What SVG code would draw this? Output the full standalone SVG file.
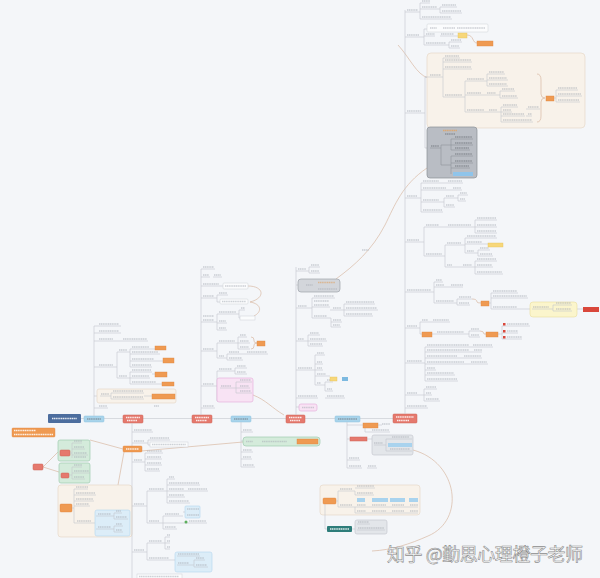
<svg xmlns="http://www.w3.org/2000/svg" width="600" height="578" viewBox="0 0 600 578">
<style>
.ln{fill:none;stroke:#c3c7cd;stroke-width:.6}
.tx{fill:none;stroke:#aeb3ba;stroke-width:1.4;stroke-dasharray:1.3 .5;opacity:.6}
.txw{fill:none;stroke:#fff;stroke-width:1.4;stroke-dasharray:1.3 .5;opacity:.85}
.txd{fill:none;stroke:#6f747c;stroke-width:1.4;stroke-dasharray:1.3 .5;opacity:.6}
.rel{fill:none;stroke:#d9b9a3;stroke-width:.7}
.red{fill:#e5796e;stroke:#cf6357;stroke-width:.5}
.blu{fill:#a8d4eb;stroke:#8cc0dd;stroke-width:.5}
.org{fill:#ef9a52;stroke:#dd8540;stroke-width:.4}
.yel{fill:#f7d77a;stroke:#e5c25a;stroke-width:.4}
.beige{fill:#f8f2ea;stroke:#e6d9c8;stroke-width:.7}
.green{fill:#d4ebdb;stroke:#9fcbb0;stroke-width:.7}
.lblue{fill:#dcedf8;stroke:#b4d7ee;stroke-width:.6}
.pink{fill:#f8e3f4;stroke:#e3aad8;stroke-width:.6}
.gbox{fill:#e3e6ea;stroke:#bfc3c9;stroke-width:.6}
.wbox{fill:#fbfcfd;stroke:#ccd0d5;stroke-width:.5}
</style>
<rect width="600" height="578" fill="#f4f6f9"/>

<g id="connectors">
<path class="ln" stroke="#cbc6c3" d="M81,418.5H84 M104,418.5H123 M143,418.5H192 M212,418.5H231 M251,418.5H286 M305,418.5H335 M360,418.5H393"/>
<path class="rel" d="M336,279 C355,265 372,250 385,225 C395,205 402,185 427,168"/>
<path class="rel" d="M398,45 C410,58 416,74 428,78"/>
<path class="rel" d="M413,450 C458,462 466,520 428,536 C410,544 392,550 372,551"/>
<path class="rel" d="M243,442 L141,451"/>
<path class="rel" d="M123,449 L90,440 M124,452 L118,485"/>
<path class="rel" stroke="#e8a59c" d="M43,467 L58,452 M43,467 L59,472"/>
<path class="rel" d="M253,395 C266,400 272,408 284,415"/>
<path class="rel" d="M248,286 C264,286 266,298 250,302 M250,302 C262,304 262,312 254,316"/>
<path class="rel" d="M467,35 C474,35 472,43 477,43"/>
<path class="tx" d="M362,250h7"/>
</g>

<g id="root">
<rect x="48" y="414" width="33" height="9" rx="1" fill="#4c6d9e"/>
<path class="txw" d="M52,418.5h25"/>
</g>
<g id="note">
<rect x="12" y="428" width="43" height="9" rx="1" class="org"/>
<path class="txw" d="M14,430.5h22 M14,434.5h39"/>
</g>

<g id="spine-nodes">
<rect x="84" y="416" width="20" height="6" rx="1" class="blu"/><path class="txd" d="M87,419h14"/>
<rect x="123" y="415" width="20" height="8" rx="1" class="red"/><path class="txw" d="M126,417.5h14 M127,420.5h10"/>
<rect x="192" y="415" width="20" height="8" rx="1" class="red"/><path class="txw" d="M195,417.5h14 M196,420.5h11"/>
<rect x="231" y="416" width="20" height="6" rx="1" class="blu"/><path class="txd" d="M234,419h14"/>
<rect x="286" y="415" width="19" height="8" rx="1" class="red"/><path class="txw" d="M289,417.5h13 M290,420.5h10"/>
<rect x="335" y="416" width="25" height="6" rx="1" class="blu"/><path class="txd" d="M338,419h19"/>
<rect x="393" y="414" width="24" height="9" rx="1" class="red"/><path class="txw" d="M396,417h18 M397,420.5h12"/>
</g>

<g id="left-cluster">
<rect x="33" y="464" width="10" height="6" rx="1" class="red"/>
<rect x="58" y="440" width="32" height="21" rx="2" class="green"/>
<rect x="60" y="450" width="10" height="6" rx="1" class="red"/>
<path class="ln" d="M70,453H72 M72,443V458 M72,443H82 M72,449H85 M72,455H88"/>
<path class="tx" d="M74,441h8 M74,447h10 M74,453h13 M74,457h12"/>
<rect x="59" y="463" width="31" height="20" rx="2" class="green"/>
<rect x="61" y="473" width="8" height="5" rx="1" class="red"/>
<path class="ln" d="M69,475H72 M72,467V479 M72,467H82 M72,473H90 M72,479H85"/>
<path class="tx" d="M74,465h8 M74,471h15 M74,477h10"/>
<rect x="58" y="485" width="74" height="52" rx="3" class="beige"/>
<rect x="60" y="504" width="12" height="8" rx="1" class="org"/>
<path class="ln" d="M72,508H74 M74,489V523 M74,489H88 M74,495H96 M74,501H94 M74,506H90 M74,523H95"/>
<path class="tx" d="M76,487h12 M76,493h19 M76,499h17 M76,504h13 M77,521h14"/>
<rect x="95" y="510" width="35" height="26" rx="2" class="lblue"/>
<path class="ln" d="M96,516H112 M96,529H112 M114,513V519 M112,516H114 M114,513H122 M114,519H128 M114,526V532 M112,529H114 M114,526H123 M114,532H123"/>
<path class="tx" d="M98,514h13 M98,527h13 M116,511h5 M116,517h11 M116,524h6 M116,530h6"/>
</g>

<g id="branch-a">
<path class="ln" d="M94,326V416 M94,326H121 M94,333H121 M94,341H148 M94,367H117 M117,352V378 M117,352H128 M130,349V367 M128,352H130 M130,349H150 M130,354H160 M130,361H155 M130,367H152 M117,378H128 M130,372V384 M128,378H130 M130,372H152 M130,378H150 M130,384H157 M94,396H97 M94,408H108 M150,349H155 M155,361H163 M152,374H155 M157,384H162"/>
<path class="tx" d="M99,324h20 M99,331h20 M99,339h14 M123,339h24 M99,365h14 M119,350h8 M132,347h17 M132,352h26 M132,359h22 M132,365h19 M119,376h8 M132,370h19 M132,376h17 M132,382h24 M99,406h8 M154,406h5"/>
<rect x="155" y="346" width="11" height="4" class="org"/>
<rect x="163" y="358" width="11" height="5" class="org"/>
<rect x="155" y="372" width="12" height="5" class="org"/>
<rect x="162" y="382" width="12" height="4" class="org"/>
<rect x="97" y="389" width="79" height="14" rx="2" class="beige"/>
<path class="ln" d="M100,396H111 M111,393V399 M111,393H144 M111,399H144 M144,396H152"/>
<path class="tx" d="M101,394h8 M113,391h30 M113,397h30"/>
<rect x="152" y="394" width="23" height="5" class="org"/>
</g>

<g id="branch-b">
<rect x="185" y="506" width="15" height="12" rx="1" class="lblue"/>
<rect x="175" y="552" width="37" height="20" rx="2" class="lblue"/>
<rect x="150" y="442" width="38" height="5" class="wbox"/>
<path class="ln" d="M132,423V446 M132,452V578 M132,432H153 M132,443H148 M148,440V445 M148,440H170 M148,445H150 M132,462H145 M145,453V471 M145,453H163 M145,459H162 M145,465H162 M145,471H160 M132,506H147 M147,491V523 M147,491H167 M167,479V503 M167,479H175 M167,485H200 M167,491H208 M167,497H185 M167,503H190 M147,523H163 M163,516V529 M163,516H183 M163,523H207 M163,529H177 M183,512H185 M132,552H147 M147,543V560 M147,543H165 M165,537V549 M165,537H170 M165,543H170 M165,549H170 M147,560H175 M177,556H200 M177,565H194 M194,560V567 M194,560H205 M194,567H208"/>
<path class="tx" d="M134,430h18 M134,441h10 M150,438h19 M152,444.5h34 M134,460h8 M147,451h15 M147,457h14 M147,463h14 M147,469h12 M134,504h10 M149,489h15 M169,477h5 M169,483h30 M169,489h15 M188,489h19 M169,495h15 M169,501h20 M149,521h10 M165,514h14 M189,521h17 M165,527h11 M187,509h12 M187,515h12 M134,550h10 M149,541h13 M167,535h3 M167,541h3 M167,547h3 M149,558h20 M178,554h21 M178,563h11 M196,558h8 M196,565h11"/>
<rect x="123" y="446" width="19" height="6" rx="1" class="org"/>
<path class="txw" d="M126,449h13"/>
<circle cx="186" cy="522" r="1.5" fill="#5cae5c"/>
<rect x="137" y="574" width="45" height="5" class="wbox"/>
<path class="tx" d="M139,576.5h40"/>
</g>

<g id="branch-c">
<path class="ln" d="M201,269V415 M201,269H215 M201,277H210 M213,277H222 M201,286H223 M201,298H217 M217,295V302 M217,295H228 M217,302H220 M201,322H217 M217,314V330 M217,314H239 M239,310V318 M239,310H245 M239,318H240 M217,323H227 M217,330H227 M201,351H217 M217,343V358 M217,343H238 M238,337V349 M238,337H247 M238,343H250 M238,349H250 M217,358H227 M227,354V360 M227,354H268 M227,360H243 M201,386H217 M217,371V401 M217,371H235 M235,368V374 M235,368H247 M235,374H247 M217,401H252 M201,408H215"/>
<path class="tx" d="M203,267h11 M203,275h6 M214,275h7 M203,284h16 M203,296h11 M219,293h8 M203,316h11 M203,320h11 M219,312h17 M241,308h4 M219,321h7 M219,328h7 M203,349h11 M219,341h16 M240,335h6 M240,341h9 M240,347h9 M219,356h5 M229,352h10 M247,352h20 M229,358h13 M203,384h11 M219,369h13 M237,366h9 M237,372h9 M221,399h10 M241,399h10 M203,406h11"/>
<rect x="223" y="283" width="25" height="6" rx="1" class="wbox"/><path class="tx" d="M225,286h21"/>
<rect x="220" y="299" width="28" height="5" rx="1" class="wbox"/><path class="tx" d="M222,301.5h24"/>
<rect x="240" y="316" width="15" height="4" class="wbox"/>
<path class="rel" d="M251,337 Q254,337 254,340 V341 Q254,343 257,343 Q254,343 254,345 V346 Q254,349 251,349"/>
<rect x="257" y="341" width="8" height="5" class="org"/>
<rect x="217" y="378" width="36" height="24" rx="2" class="pink"/>
<path class="ln" d="M220,388H236 M236,382V393 M236,382H252 M236,388H250 M236,393H252"/>
<path class="tx" d="M221,386h10 M240,380h11 M240,386h9 M240,391h11"/>
</g>

<g id="branch-d">
<path class="ln" d="M296,267V415 M296,271H309 M309,267V273 M309,267H320 M309,273H320 M296,285H298 M296,308H312 M312,298V318 M312,298H335 M312,307H330 M312,318H331 M330,310H344 M344,304V316 M344,304H375 M344,310H378 M344,316H373 M331,318V327 M331,322H342 M331,327H341 M296,341H308 M308,335V346 M308,335H320 M308,341H327 M308,346H323 M296,370H315 M315,355V385 M315,355H325 M315,364H323 M315,370H323 M315,376H330 M315,385H325 M325,382V391 M325,382H333 M325,391H333 M296,398H318 M325,398H345 M296,407H299"/>
<path class="tx" d="M298,269h8 M311,265h8 M311,271h8 M298,306h9 M314,296h20 M314,301h15 M314,305h15 M314,316h13 M333,308h8 M346,302h28 M346,308h31 M346,314h26 M333,320h8 M333,325h7 M298,339h6 M310,333h9 M310,339h16 M310,344h12 M298,368h14 M317,353h7 M317,362h5 M317,368h5 M317,374h9 M317,383h4 M327,380h5 M327,389h5 M298,396h19 M327,396h17"/>
<rect x="298" y="279" width="42" height="13" rx="3" fill="#d3d6db" stroke="#9ea3aa" stroke-width=".7"/>
<path class="tx" d="M306,285h7 M318,289h19"/>
<path class="tx" style="stroke:#e0a060" d="M318,282.5h17"/>
<rect x="330" y="377" width="7" height="4" class="yel"/>
<rect x="342" y="377" width="6" height="4" fill="#7cb9e0"/>
<rect x="299" y="404" width="18" height="7" rx="2" class="pink"/>
<path class="tx" d="M302,407.5h12"/>
</g>

<g id="branch-e">
<path class="ln" d="M241,422V467 M241,432H253 M241,441H243 M241,452H253 M241,459H252 M241,467H255"/>
<path class="tx" d="M243,430h9 M243,450h9 M243,457h8 M243,465h11"/>
<rect x="243" y="437" width="77" height="9" rx="3" class="green"/>
<path class="tx" d="M246,441.5h7 M262,441.5h25"/>
<rect x="297" y="439" width="21" height="5" class="org"/>
</g>

<g id="branch-f">
<path class="ln" d="M347,422V468 M347,425H363 M378,425H382 M365,428V432H390 M347,439H350 M367,439H372 M347,460H360 M347,468H362 M367,468H377"/>
<path class="tx" d="M382,424h8 M372,430h17 M349,458h10 M349,466h12 M368,466h8"/>
<rect x="363" y="423" width="15" height="5" class="org"/>
<rect x="350" y="437" width="17" height="4" class="red"/>
<rect x="372" y="435" width="41" height="20" rx="2" class="gbox"/>
<rect x="388" y="443" width="24" height="4" fill="#a9d3ee"/>
<path class="ln" d="M374,445H386 M386,439V451 M386,439H412 M386,451H412"/>
<path class="tx" d="M374,443h9 M392,437h17 M390,449h20"/>
</g>

<g id="branch-g">
<path class="ln" d="M405,10V414 M405,12H420 M420,3V19 M420,3H430 M420,9H440 M440,7V13 M440,7H457 M440,13H462 M420,19H452 M405,37H424 M424,29V45 M424,29H427 M424,36H435 M440,36H458 M424,45H449 M449,42V48 M449,42H462 M449,48H460 M405,113H425 M425,77V148 M425,77H442 M425,148H430"/>
<path class="tx" d="M407,10h11 M422,1h8 M422,7h15 M442,5h14 M442,11h19 M422,17h29 M407,35h12 M426,34h9 M441,34h13 M426,43h20 M451,40h10 M451,46h8 M407,111h14"/>
<rect x="427" y="24" width="61" height="8" rx="1" class="wbox"/>
<path class="tx" d="M430,28h7 M443,28h12 M457,28h28"/>
<rect x="458" y="33" width="9" height="5" class="yel"/>
<rect x="477" y="41" width="16" height="5" class="org"/>

<rect x="427" y="53" width="158" height="75" rx="4" class="beige"/>
<path class="ln" d="M425,77H443 M443,58V97 M443,58H460 M443,62H472 M443,69H472 M443,97H465 M465,81V112 M465,81H487 M487,74V86 M487,74H505 M487,80H508 M487,86H508 M465,95H497 M497,95H500 M500,91V98 M500,91H515 M500,98H518 M465,112H501 M501,107V122 M501,107H518 M501,112H512 M501,116H525 M501,122H533 M526,109H540 M526,116H532 M554,98H556 M556,90V102 M556,90H578 M556,96H582 M556,102H580"/>
<path class="rel" d="M537,74 Q541,74 541,80 V94 Q541,98 545,98 Q541,98 541,102 V116 Q541,122 537,122"/>
<path class="tx" d="M430,75h11 M445,56h14 M445,60h26 M445,67h26 M445,95h17 M467,79h17 M489,72h15 M489,78h18 M489,84h18 M467,93h14 M487,93h9 M502,89h12 M502,96h15 M467,110h17 M489,110h8 M503,105h14 M503,110h8 M503,114h21 M503,120h29 M528,107h11 M528,114h4 M558,88h19 M558,94h23 M558,100h21"/>
<rect x="546" y="96" width="8" height="5" class="org"/>

<rect x="427" y="127" width="50" height="51" rx="3" fill="#b9bdc4" stroke="#8b9097" stroke-width=".7"/>
<path class="ln" style="stroke:#8e939a" d="M430,148H441 M441,145V165 M441,145H451 M441,165H451 M451,139V150 M451,139H473 M451,145H473 M451,150H470 M451,156V174 M451,156H473 M451,163H473 M451,168H470"/>
<path class="tx" style="stroke:#e6a35c;opacity:.8" d="M443,130.5h14"/>
<path class="txd" d="M445,134h10 M431,146h8 M455,137h17 M455,143h17 M455,148h14 M455,154h17 M455,161h17 M455,166h14"/>
<rect x="453" y="172" width="20" height="4" fill="#8fc4ea"/>

<path class="ln" d="M405,198H421 M421,183V212 M421,183H463 M421,190H462 M421,202H444 M444,198V207 M444,198H458 M458,195V201 M458,195H468 M458,201H466 M444,207H455 M421,212H443"/>
<path class="tx" d="M407,196h10 M423,181h16 M448,181h14 M423,188h23 M453,188h8 M423,200h16 M446,196h8 M460,193h7 M460,199h5 M446,205h8 M423,210h19"/>

<path class="ln" d="M405,242H424 M424,227V256 M424,227H475 M475,220V233 M475,220H497 M475,227H497 M475,233H497 M424,256H445 M445,245V267 M445,245H465 M465,238V253 M465,238H497 M465,244H488 M465,253H478 M478,250V256 M478,250H490 M478,256H493 M445,267H475 M475,261V274 M475,261H497 M475,267H493 M475,274H503"/>
<path class="tx" d="M407,240h12 M426,225h13 M448,225h23 M477,218h19 M477,225h19 M477,231h19 M426,254h16 M447,243h14 M467,236h29 M467,242h15 M467,251h7 M480,248h9 M480,254h12 M447,265h5 M463,265h9 M477,259h19 M477,265h15 M477,272h25"/>
<rect x="488" y="243" width="15" height="4" class="yel"/>

<path class="ln" d="M405,292H434 M434,282V303 M434,282H443 M434,287H463 M434,303H457 M457,299V305 M457,299H472 M457,305H470 M489,303H491 M491,293V309 M491,293H518 M491,298H528 M491,309H530 M577,309H583"/>
<path class="rel" d="M472,299 Q477,299 477,302 Q477,303 481,303"/>
<path class="tx" d="M407,290h24 M436,280h6 M436,285h8 M451,285h12 M436,301h18 M459,297h12 M459,303h10 M493,291h24 M493,296h34 M493,307h24"/>
<rect x="481" y="301" width="8" height="5" class="org"/>
<rect x="530" y="302" width="47" height="15" rx="3" fill="#fbf5cc" stroke="#e9dd9c" stroke-width=".6"/>
<path class="ln" d="M532,309H553 M553,305V311 M553,305H572 M553,311H572"/>
<path class="tx" d="M533,307h16 M556,303h15 M556,309h15"/>
<rect x="583" y="307" width="16" height="5" fill="#d9473b"/>

<path class="ln" d="M405,328H420 M420,322V334 M420,322H450 M420,334H422 M432,334H469 M469,331V337 M469,331H480 M469,337H480 M498,334H502 M502,326V339 M502,326H530 M502,333H518 M502,339H522"/>
<path class="rel" d="M480,331 Q484,331 484,334 H486"/>
<path class="tx" d="M407,326h10 M422,320h6 M433,320h16 M437,332h27 M471,329h8 M471,335h8 M507,324h22 M507,331h11 M507,337h15"/>
<rect x="422" y="332" width="10" height="5" class="org"/>
<rect x="486" y="332" width="12" height="5" class="org"/>
<rect x="503" y="323" width="2.5" height="2.5" fill="#d9473b"/>
<rect x="503" y="330" width="2.5" height="2.5" fill="#d9473b"/>
<rect x="503" y="336" width="2.5" height="2.5" fill="#d9473b"/>

<path class="ln" d="M405,363H425 M425,347V381 M425,347H493 M425,352H482 M425,358H482 M425,364H488 M425,370H436 M425,375H455 M425,381H458 M405,395H424 M424,389V401 M424,389H437 M424,395H432 M424,401H440 M405,408H428"/>
<path class="tx" d="M407,361h15 M427,345h42 M473,345h19 M427,350h42 M474,350h8 M427,356h30 M464,356h17 M427,362h37 M471,362h16 M427,368h8 M427,373h27 M427,379h30 M407,393h10 M426,387h10 M426,393h5 M426,399h13 M407,406h20"/>
</g>

<g id="branch-h">
<rect x="320" y="485" width="100" height="30" rx="3" class="beige"/>
<rect x="323" y="498" width="13" height="6" rx="1" class="org"/>
<path class="ln" d="M336,501H338 M338,491V507 M338,491H355 M338,507H355 M355,491V495 M355,488H375 M355,495H374 M355,507V513 M355,507H418 M355,513H418 M325,504V529H327"/>
<path class="tx" d="M340,489h12 M340,505h12 M357,486h17 M357,493h16 M357,511h9 M372,505h14 M392,505h12 M410,505h8 M372,511h14 M392,511h12 M410,511h8 M357,505h9"/>
<rect x="357" y="498" width="8" height="4" fill="#a9d3ee"/>
<rect x="372" y="498" width="16" height="4" fill="#a9d3ee"/>
<rect x="390" y="498" width="15" height="4" fill="#a9d3ee"/>
<rect x="409" y="498" width="9" height="4" fill="#a9d3ee"/>
<rect x="327" y="526" width="25" height="6" rx="1" fill="#2e7d7a"/>
<path class="txw" d="M330,529h19"/>
<rect x="355" y="520" width="32" height="14" rx="2" class="gbox"/>
<path class="ln" d="M352,529H355 M357,524H370 M357,530H385"/>
<path class="tx" d="M358,522h11 M358,528h26"/>
</g>

<text x="387" y="561" font-family="Noto Sans CJK SC, sans-serif" font-size="18" fill="#ffffff" stroke="#8c8c8c" stroke-width=".6" textLength="196" lengthAdjust="spacing">知乎 @勤思心理橙子老师</text>
</svg>
